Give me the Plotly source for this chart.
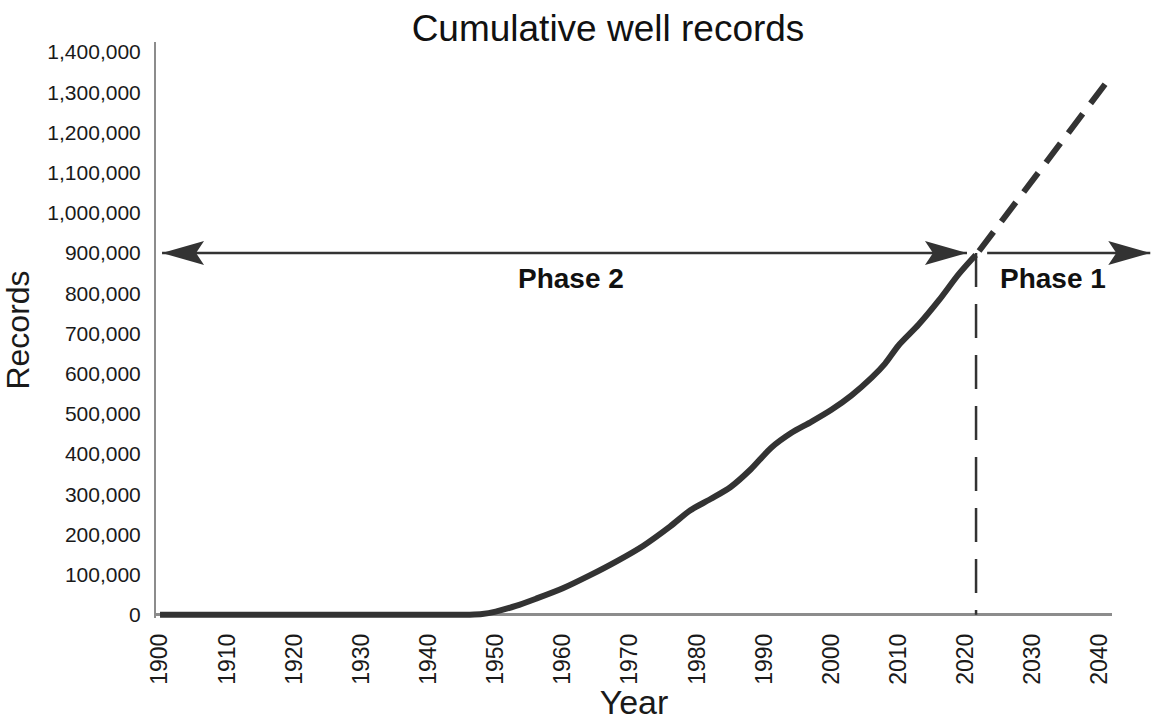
import plotly.graph_objects as go

# Cumulative well records by year
years = [1900, 1920, 1940, 1944, 1946, 1948, 1950, 1953, 1956, 1960, 1964, 1968,
         1972, 1976, 1979, 1982, 1985, 1988, 1991, 1994, 1997, 2000, 2003, 2006,
         2008, 2010, 2013, 2016, 2019, 2021.5]
records = [0, 0, 0, 0, 300, 2000, 8000, 22000, 40000, 66000, 98000, 133000,
           172000, 220000, 260000, 288000, 318000, 362000, 415000, 452000, 480000, 510000,
           546000, 590000, 625000, 670000, 722000, 782000, 848000, 895000]

# Projected growth
proj_years = [2022, 2041]
proj_records = [905000, 1325000]

# Boundary between phases
boundary_year = 2021.55
boundary_top = 900000

# Phase arrows (years) at the boundary record level
phase_level = 900000
phase2_span = [1900.3, 2020.2]
phase1_span = [2023.2, 2047.5]
phase_labels = ["Phase 2", "Phase 1"]
phase_label_years = [1961.2, 2033.0]
phase_label_level = 836000

y_ticks = list(range(0, 1400001, 100000))
x_ticks = list(range(1900, 2041, 10))

X_RANGE = [1899.4, 2041.8]
Y_RANGE = [-8000, 1425000]

FONT = "Liberation Sans, Arial, sans-serif"
INK = "#333333"
AXIS = "#8c8c8c"


def xp(year):
    return (year - X_RANGE[0]) / (X_RANGE[1] - X_RANGE[0])


def yp(val):
    return (val - Y_RANGE[0]) / (Y_RANGE[1] - Y_RANGE[0])


fig = go.Figure()

fig.add_trace(go.Scatter(
    x=[boundary_year, boundary_year], y=[boundary_top, 0], mode="lines",
    line=dict(color=INK, width=2.5, dash="34px,17px"), hoverinfo="skip", showlegend=False))

fig.add_trace(go.Scatter(
    x=years, y=records, mode="lines",
    line=dict(color=INK, width=6, shape="spline", smoothing=0.8),
    showlegend=False))

fig.add_trace(go.Scatter(
    x=proj_years, y=proj_records, mode="lines",
    line=dict(color=INK, width=6, dash="24px,13px"), showlegend=False))

head_right = "M0,0 L-42,-12 L-34,0 L-42,12 Z"
head_left = "M0,0 L42,-12 L34,0 L42,12 Z"
shapes = []
for x0, x1 in (phase2_span, phase1_span):
    shapes.append(dict(type="line", xref="paper", yref="paper",
                       x0=xp(x0), x1=xp(x1), y0=yp(phase_level), y1=yp(phase_level),
                       line=dict(color=INK, width=2.5), layer="above"))
    shapes.append(dict(type="path", xref="paper", yref="paper",
                       xsizemode="pixel", ysizemode="pixel",
                       xanchor=xp(x1), yanchor=yp(phase_level), path=head_right,
                       fillcolor=INK, line=dict(width=0), layer="above"))
shapes.append(dict(type="path", xref="paper", yref="paper",
                   xsizemode="pixel", ysizemode="pixel",
                   xanchor=xp(phase2_span[0]), yanchor=yp(phase_level), path=head_left,
                   fillcolor=INK, line=dict(width=0), layer="above"))

annotations = [
    dict(x=yr, y=phase_label_level, xref="x", yref="y", text=f"<b>{t}</b>",
         showarrow=False, font=dict(family=FONT, size=28, color="#111111"),
         xanchor="center", yanchor="middle")
    for t, yr in zip(phase_labels, phase_label_years)
]

fig.update_layout(
    width=1152, height=721,
    margin=dict(l=156, r=40, t=42, b=103),
    paper_bgcolor="white", plot_bgcolor="white",
    font=dict(family=FONT, color="#1a1a1a"),
    title=dict(text="Cumulative well records", xref="container", yref="container",
               x=608 / 1152, y=1 - 28 / 721, xanchor="center", yanchor="middle",
               font=dict(family=FONT, size=37, color="#111111")),
    shapes=shapes, annotations=annotations,
    xaxis=dict(range=X_RANGE, tickvals=x_ticks, ticktext=[str(t) for t in x_ticks],
               tickangle=-90, showgrid=False, zeroline=False, showline=False,
               ticks="", ticklabelstandoff=10, automargin=False,
               tickfont=dict(family=FONT, size=23, color="#1a1a1a"),
               title=dict(text="Year", font=dict(family=FONT, size=34, color="#1a1a1a"),
                          standoff=10)),
    yaxis=dict(range=Y_RANGE, tickvals=y_ticks, tickformat=",d",
               showgrid=False, zeroline=True, zerolinecolor=AXIS, zerolinewidth=2.5,
               showline=True, linecolor=AXIS, linewidth=2, ticks="",
               ticklabelstandoff=9, automargin=False,
               tickfont=dict(family=FONT, size=21, color="#1a1a1a"),
               title=dict(text="Records", font=dict(family=FONT, size=32, color="#1a1a1a"),
                          standoff=8)),
)

fig.write_html("out.html")
